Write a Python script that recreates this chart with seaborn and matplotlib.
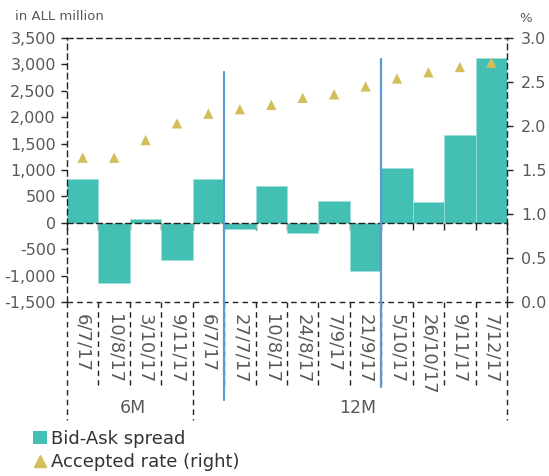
import matplotlib
matplotlib.use("Agg")
import matplotlib.pyplot as plt
import matplotlib.transforms as mtransforms
from matplotlib.patches import Patch
from matplotlib.lines import Line2D
import numpy as np
import pandas as pd
import seaborn as sns

# ---- data ----
dates = ["6/7/17", "10/8/17", "3/10/17", "9/11/17", "6/7/17", "27/7/17", "10/8/17",
         "24/8/17", "7/9/17", "21/9/17", "5/10/17", "26/10/17", "9/11/17", "7/12/17"]
spread = [830, -1135, 75, -705, 830, -110, 690, -185, 415, -910, 1045, 385, 1665, 3120]
accepted_rate = [1.64, 1.64, 1.84, 2.03, 2.14, 2.19, 2.24, 2.32, 2.36, 2.45, 2.54, 2.61, 2.67, 2.72]
groups = ["6M", "12M"]
group_sizes = [4, 10]
left_ticks = list(range(-1500, 3501, 500))
right_ticks = [0.0, 0.5, 1.0, 1.5, 2.0, 2.5, 3.0]

TEAL = "#43BFB4"
GOLD = "#D4BE5A"
BLUE = "#5B9BD5"
TXT = "#595959"
DASH = (0, (4, 3))

sns.set_theme(style="white")
plt.rcParams["font.family"] = ["DejaVu Sans"]

df = pd.DataFrame({"pos": np.arange(len(dates)), "spread": spread, "rate": accepted_rate})

fig = plt.figure(figsize=(5.49, 4.76), dpi=100)
ax = fig.add_axes([67 / 549, (476 - 302) / 476, 440 / 549, 264 / 476])

sns.barplot(data=df, x="pos", y="spread", color=TEAL, saturation=1, width=1.0,
            edgecolor="#9fe0d9", linewidth=0.5, ax=ax, zorder=1)
ax.set_xlim(-0.5, len(dates) - 0.5)
ax.set_ylim(-1500, 3500)
ax.set_xlabel("")
ax.set_ylabel("")

# spines
for s in ["top", "left"]:
    ax.spines[s].set_linestyle(DASH)
    ax.spines[s].set_color("#222222")
    ax.spines[s].set_linewidth(1)
ax.spines["right"].set_visible(False)
ax.spines["bottom"].set_position(("data", 0))
ax.spines["bottom"].set_linestyle(DASH)
ax.spines["bottom"].set_color("#222222")
ax.spines["bottom"].set_linewidth(1)
ax.spines["bottom"].set_zorder(5)
ax.axhline(-1500, color="#222222", lw=1, ls=DASH, clip_on=False, zorder=5)

ax.set_yticks(left_ticks)
ax.set_yticklabels([f"{v:,}" for v in left_ticks])
ax.tick_params(axis="y", direction="out", length=4, width=1, color="#222222",
               labelsize=11.5, labelcolor=TXT, pad=4, left=True)
ax.set_xticks(np.arange(-0.5, len(dates), 1.0))
ax.set_xticklabels([])
ax.tick_params(axis="x", direction="out", length=5, width=1, color="#222222", bottom=True)

# twin axis
ax2 = ax.twinx()
sns.scatterplot(data=df, x="pos", y="rate", marker="^", s=55, color=GOLD,
                edgecolor="none", ax=ax2, legend=False, zorder=6)
ax2.set_ylim(0, 3.0)
ax2.set_xlim(-0.5, len(dates) - 0.5)
ax2.set_ylabel("")
for s in ["top", "left", "bottom"]:
    ax2.spines[s].set_visible(False)
ax2.spines["right"].set_linestyle(DASH)
ax2.spines["right"].set_color("#222222")
ax2.spines["right"].set_linewidth(1)
ax2.set_yticks(right_ticks)
ax2.set_yticklabels([f"{v:.1f}" for v in right_ticks])
ax2.tick_params(axis="y", direction="out", length=4, width=1, color="#222222",
                labelsize=11.5, labelcolor=TXT, pad=6, right=True)

trans = mtransforms.blended_transform_factory(ax.transData, ax.transAxes)

# category labels
for i, d in enumerate(dates):
    ax.text(i, -0.045, d, transform=trans, rotation=270, ha="center", va="top",
            fontsize=13, color=TXT, clip_on=False)

# separators below axis
edges = np.cumsum([0] + group_sizes)
for k in range(len(dates) + 1):
    x = k - 0.5
    y_end = -0.447 if k in edges else -0.314
    ax.plot([x, x], [0, y_end], transform=trans, color="#222222", lw=1, ls=DASH,
            clip_on=False, scalex=False, scaley=False)

# group labels
for g, a, b, off in zip(groups, edges[:-1], edges[1:], [0.1, 0.25]):
    ax.text((a + b) / 2 - 0.5 + off, -0.4, g, transform=trans, ha="center", va="center",
            fontsize=12.5, color=TXT, clip_on=False)

# blue vertical dividers
ax.plot([4.5, 4.5], [0.871, -0.371], transform=trans, color=BLUE, lw=1.6,
        clip_on=False, scalex=False, scaley=False, zorder=7)
ax.plot([9.5, 9.5], [0.92, -0.322], transform=trans, color=BLUE, lw=1.6,
        clip_on=False, scalex=False, scaley=False, zorder=7)

# axis titles
fig.text(15 / 549, 1 - 17 / 476, "in ALL million", ha="left", va="center",
         fontsize=9.5, color=TXT)
fig.text(526 / 549, 1 - 18 / 476, "%", ha="center", va="center",
         fontsize=9.5, color=TXT)

# legend
handles = [Patch(facecolor=TEAL, edgecolor="none", label="Bid-Ask spread"),
           Line2D([], [], marker="^", color=GOLD, ls="none", markersize=8.5,
                  label="Accepted rate (right)")]
fig.legend(handles=handles, loc="upper left", bbox_to_anchor=(24 / 549, 1 - 421 / 476),
           frameon=False, fontsize=13, handlelength=0.75, handleheight=0.75,
           handletextpad=0.25, labelspacing=0.3, borderpad=0, labelcolor="#333333")

fig.savefig("out.png", dpi=100)
